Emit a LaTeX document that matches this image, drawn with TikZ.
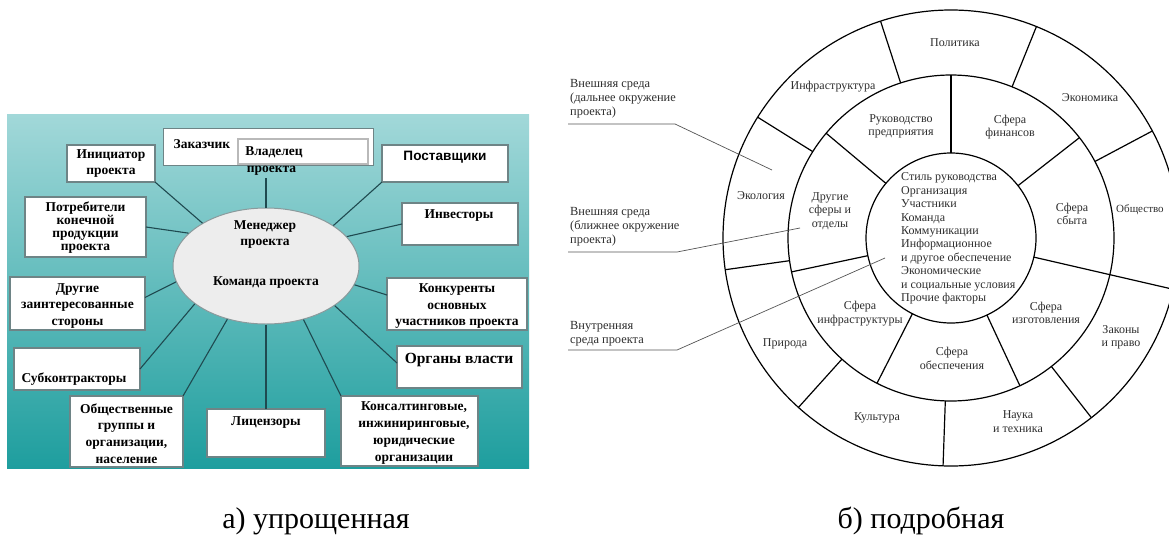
\documentclass[tikz,border=0pt]{standalone}
\usepackage{fontspec}
\setmainfont{Liberation Serif}
\newfontfamily\sansb{Liberation Sans}
\usetikzlibrary{shapes.geometric}
\definecolor{bgtop}{HTML}{A2D8D9}
\definecolor{bgbot}{HTML}{1E9E9E}
\definecolor{boxc}{HTML}{6E8486}
\definecolor{connc}{HTML}{1F4A50}
\definecolor{ellc}{HTML}{EDEDED}
\definecolor{elld}{HTML}{8A9A9C}
\definecolor{rtext}{HTML}{2E2E2E}
\definecolor{leadc}{HTML}{555555}
\begin{document}
\begin{tikzpicture}[x=1pt,y=-1pt,
  box/.style={draw=boxc, line width=1.3pt, fill=white, inner sep=0pt, outer sep=0pt},
  bt/.style={font=\bfseries\fontsize{13.5}{16}\selectfont, align=center, inner sep=0pt},
  conn/.style={draw=connc, line width=1.1pt},
  ring/.style={circle, draw=black, line width=1.2pt, inner sep=0pt, outer sep=0pt},
  divl/.style={draw=black, line width=1.2pt},
  rl/.style={font=\fontsize{12}{13.4}\selectfont, text=rtext, align=center, inner sep=0pt},
  ll/.style={font=\fontsize{12.4}{14}\selectfont, text=rtext, align=left, inner sep=0pt, anchor=west},
  lead/.style={draw=leadc, line width=0.7pt},
  captxt/.style={font=\fontsize{30}{32}\selectfont, inner sep=0pt, anchor=base}
]
\clip (0,0) rectangle (1169,541);
\fill[white] (0,0) rectangle (1169,541);

% ---------- left panel ----------
\shade[top color=bgtop, bottom color=bgbot] (7,114) rectangle (529,468);

\node[ellipse, draw=elld, line width=1pt, fill=ellc, minimum width=186pt, minimum height=116pt, inner sep=0pt] (ell) at (266,266) {};
\node[bt] (mgr) at (265,235) {Менеджер\\проекта};
\node[bt] (team) at (266,283) {Команда проекта};

\node[box, minimum width=88pt, minimum height=37pt] (init) at (111,163.5) {};
\node[bt] (tinit) at (111,164) {Инициатор\\проекта};

\node[box, minimum width=121pt, minimum height=60pt] (potr) at (85.5,227) {};
\node[bt, font=\bfseries\fontsize{13.5}{13}\selectfont] (tpotr) at (85.5,228) {Потребители\\конечной\\продукции\\проекта};

\node[box, minimum width=135pt, minimum height=53pt] (drug) at (77.5,303.5) {};
\node[bt, font=\bfseries\fontsize{13.5}{16.5}\selectfont] (tdrug) at (77.5,306) {Другие\\заинтересованные\\стороны};

\node[box, minimum width=126pt, minimum height=42pt] (sub) at (77,369) {};
\node[bt] (tsub) at (74,379) {Субконтракторы};

\node[box, minimum width=113pt, minimum height=71pt] (obsh) at (126.5,431.5) {};
\node[bt, font=\bfseries\fontsize{13.5}{16.7}\selectfont] (tobsh) at (126.5,433.5) {Общественные\\группы и\\организации,\\население};

\node[box, minimum width=118pt, minimum height=48pt] (lic) at (266,433) {};
\node[bt] (tlic) at (266,423) {Лицензоры};

\node[box, minimum width=137pt, minimum height=70pt] (kons) at (409.5,431) {};
\node[bt, font=\bfseries\fontsize{13.5}{16.7}\selectfont] (tkons) at (414,433) {Консалтинговые,\\инжиниринговые,\\юридические\\организации};

\node[box, minimum width=125pt, minimum height=42pt] (org) at (459.5,367) {};
\node[bt, font=\bfseries\fontsize{15.5}{17}\selectfont] (torg) at (459,360) {Органы власти};

\node[box, minimum width=140pt, minimum height=52pt] (konk) at (457,304) {};
\node[bt, font=\bfseries\fontsize{13.5}{16.5}\selectfont] (tkonk) at (457,306.5) {Конкуренты\\основных\\участников проекта};

\node[box, minimum width=116pt, minimum height=42pt] (inv) at (460,224) {};
\node[bt] (tinv) at (459,216) {Инвесторы};

\node[box, minimum width=126pt, minimum height=37pt] (post) at (445,163.5) {};
\node[bt, font=\sansb\bfseries\fontsize{13.6}{15}\selectfont] (tpost) at (445,157) {Поставщики};

\node[box, line width=1pt, minimum width=210pt, minimum height=37pt] (zak) at (268,146.5) {};
\node[bt] (tzak) at (202,144) {Заказчик};
\node[box, draw=gray!55, line width=1.3pt, minimum width=130pt, minimum height=25pt] (vlad) at (303,151.5) {};
\node[bt] (tvlad) at (274,152) {Владелец};
\node[bt] (tvlad2) at (271.5,171) {проекта};

\coordinate (vtop) at (266,178);
\draw[conn] (ell.north) -- (vtop);
\draw[conn] (ell.146) -- (init.south east);
\draw[conn] (ell.157) -- (potr.east);
\draw[conn] (ell.190) -- ([yshift=6pt]drug.east);
\draw[conn] (ell.208) -- (sub.east);
\draw[conn] (ell.234) -- (obsh.north east);
\draw[conn] (ell.south) -- (lic.north);
\draw[conn] (ell.305) -- (kons.north west);
\draw[conn] (ell.330) -- ([yshift=4pt]org.west);
\draw[conn] (ell.348) -- ([yshift=9pt]konk.west);
\draw[conn] (ell.20) -- (inv.west);
\draw[conn] (ell.31) -- (post.south west);

% ---------- right panel ----------
\coordinate (C) at (951,238);
\node[ring, minimum size=456pt] (outer) at (C) {};
\node[ring, minimum size=326pt] (middle) at (C) {};
\node[ring, minimum size=170pt] (inner) at (C) {};

\foreach \a in {38,90,140,192,243,295} \draw[divl] (inner.\a) -- (middle.\a);
\draw[divl] (inner.347) -- (outer.347);
\foreach \a in {28,68,108,148,188,228,268,308} \draw[divl] (middle.\a) -- (outer.\a);

% outer ring labels
\node[rl] (pol) at (955,43) {Политика};
\node[rl] (eco) at (1090,98) {Экономика};
\node[rl] (infr) at (833,87) {Инфраструктура};
\node[rl] (ecol) at (761,196) {Экология};
\node[rl] (prir) at (785,344) {Природа};
\node[rl] (kult) at (877,418) {Культура};
\node[rl] (nauka) at (1018,421.5) {Наука\\и техника};
\node[rl] (zak2) at (1121,337) {Законы\\и право};
\node[rl, anchor=west, font=\fontsize{11}{13}\selectfont] (obshch) at (1116,210) {Общество};

% middle ring labels
\node[rl] (ruk) at (901,126.5) {Руководство\\предприятия};
\node[rl] (fin) at (1010,127) {Сфера\\финансов};
\node[rl] (sbyt) at (1072,214) {Сфера\\сбыта};
\node[rl] (izg) at (1046,313) {Сфера\\изготовления};
\node[rl] (obesp) at (952,358.5) {Сфера\\обеспечения};
\node[rl] (sinfr) at (860,313.5) {Сфера\\инфраструктуры};
\node[rl] (drsf) at (830,211) {Другие\\сферы и\\отделы};

% inner text
\node[rl, align=left, anchor=west] (itext) at (901,238.5) {Стиль руководства\\Организация\\Участники\\Команда\\Коммуникации\\Информационное\\и другое обеспечение\\Экономические\\и социальные условия\\Прочие факторы};

% leaders
\coordinate (l1a) at (568,124); \coordinate (l1b) at (675,124); \coordinate (l1c) at (772,170);
\coordinate (l2a) at (568,252); \coordinate (l2b) at (677,252); \coordinate (l2c) at (800,228);
\coordinate (l3a) at (568,350); \coordinate (l3b) at (677,350); \coordinate (l3c) at (885,258);
\draw[lead] (l1a) -- (l1b) -- (l1c);
\draw[lead] (l2a) -- (l2b) -- (l2c);
\draw[lead] (l3a) -- (l3b) -- (l3c);
\node[ll] (t1) at (570,99) {Внешняя среда\\(дальнее окружение\\проекта)};
\node[ll] (t2) at (570,227) {Внешняя среда\\(ближнее окружение\\проекта)};
\node[ll] (t3) at (570,333.5) {Внутренняя\\среда проекта};

% captions
\node[captxt] (capa) at (316,528) {а) упрощенная};
\node[captxt] (capb) at (921,528) {б) подробная};
\end{tikzpicture}
\end{document}
